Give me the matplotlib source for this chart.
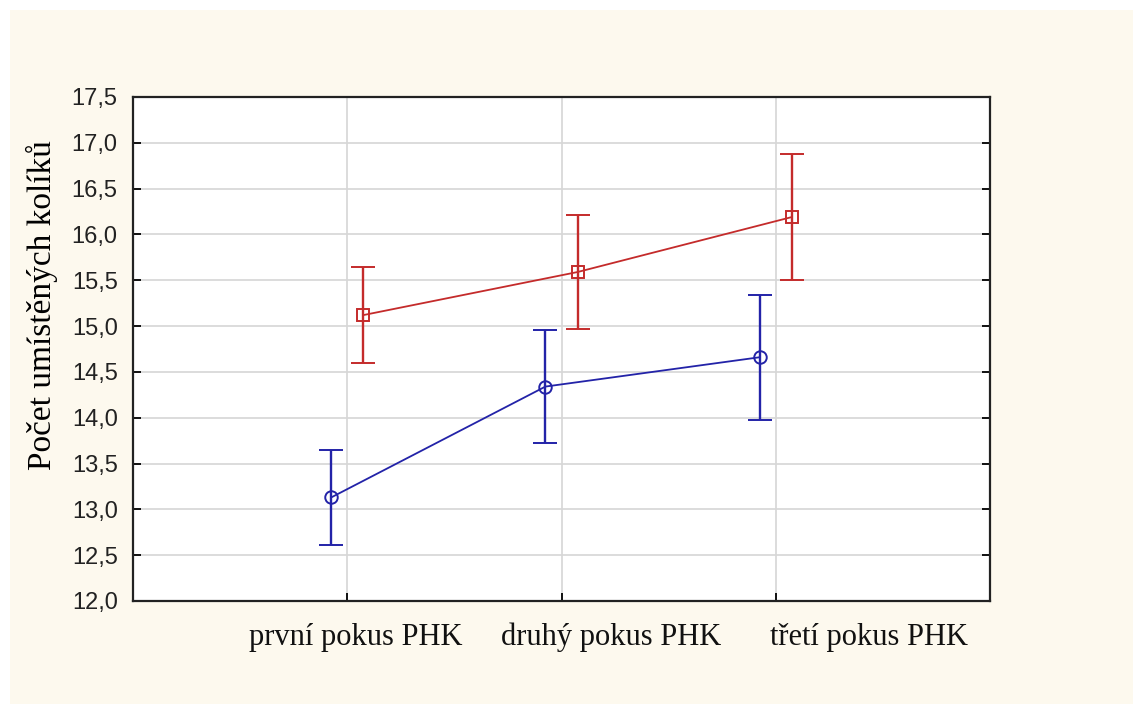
"""Počet umístěných kolíků: mean +/- CI per attempt, two groups."""
import matplotlib
matplotlib.use("Agg")
import matplotlib.pyplot as plt
from matplotlib.patches import Rectangle

categories = ["první pokus PHK", "druhý pokus PHK", "třetí pokus PHK"]
blue_mean = [13.13, 14.34, 14.66]
blue_err = [0.52, 0.62, 0.68]
red_mean = [15.12, 15.59, 16.19]
red_err = [0.52, 0.62, 0.69]
yticks = [12.0, 12.5, 13.0, 13.5, 14.0, 14.5, 15.0, 15.5, 16.0, 16.5, 17.0, 17.5]
# label centres as drawn in the original (not centred on the ticks)
label_x = [1.04, 2.23, 3.435]

BG = "#fdf9ee"
BLUE = "#2323a8"
RED = "#c42b2b"

fig = plt.figure(figsize=(11.33, 7.04), dpi=100, facecolor=BG)
# thin white strip along the top and left edge
fig.patches.append(Rectangle((0, 1 - 10 / 704), 1, 10 / 704, transform=fig.transFigure,
                             facecolor="white", edgecolor="none", zorder=-10))
fig.patches.append(Rectangle((0, 0), 10 / 1133, 1, transform=fig.transFigure,
                             facecolor="white", edgecolor="none", zorder=-10))
ax = fig.add_axes([133 / 1133, 1 - 601 / 704, 857 / 1133, 504 / 704])
ax.set_facecolor("white")

xs = [1, 2, 3]
off = 0.075
ax.errorbar([x - off for x in xs], blue_mean, yerr=blue_err, color=BLUE, lw=1.3,
            elinewidth=1.7, capsize=8.6, capthick=1.7, marker="o", ms=9,
            mfc="none", mec=BLUE, mew=1.4, zorder=3)
ax.errorbar([x + off for x in xs], red_mean, yerr=red_err, color=RED, lw=1.3,
            elinewidth=1.7, capsize=8.6, capthick=1.7, marker="s", ms=9,
            mfc="none", mec=RED, mew=1.4, zorder=3)

ax.set_xlim(0, 4)
ax.set_ylim(12.0, 17.5)
ax.set_xticks(xs)
ax.set_xticklabels([])
for lx, lab in zip(label_x, categories):
    ax.text(lx, -0.072, lab, transform=ax.get_xaxis_transform(), ha="center", va="center",
            family="Liberation Serif", fontsize=22, color="#111111")
ax.set_yticks(yticks)
ax.set_yticklabels([f"{t:.1f}".replace(".", ",") for t in yticks],
                   family="Liberation Sans", fontsize=17, color="#222222")
ax.grid(True, color="#d6d6d6", lw=1.2)
ax.set_axisbelow(True)
ax.tick_params(axis="both", direction="in", length=6, width=1.3, right=True)
ax.tick_params(axis="y", pad=11)
for s in ax.spines.values():
    s.set_linewidth(1.6)
    s.set_color("#222222")
ax.set_ylabel("Počet umístěných kolíků", family="Liberation Serif", fontsize=24)
ax.yaxis.set_label_coords(-0.088, 0.587)

fig.savefig("out.png", dpi=100, facecolor=fig.get_facecolor())
